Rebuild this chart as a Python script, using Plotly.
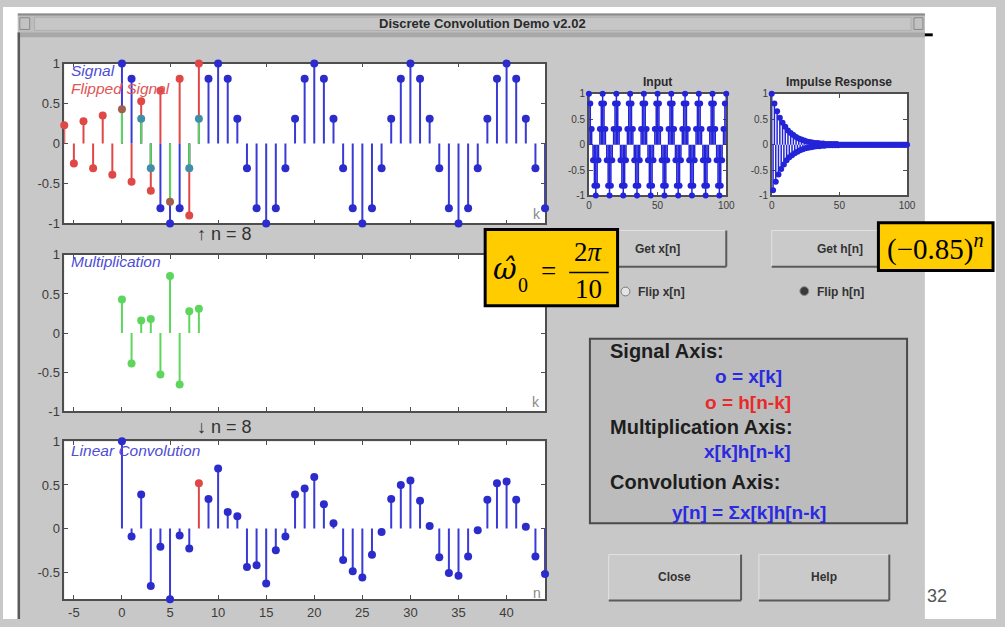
import plotly.graph_objects as go

W, H = 1005, 627

# ---------------- data ----------------
# input x[k] (k = 0..100)
signal = [
    1, 0.81, 0.31, -0.31, -0.81, -1, -0.81, -0.31, 0.31, 0.81,
    1, 0.81, 0.31, -0.31, -0.81, -1, -0.81, -0.31, 0.31, 0.81,
    1, 0.81, 0.31, -0.31, -0.81, -1, -0.81, -0.31, 0.31, 0.81,
    1, 0.81, 0.31, -0.31, -0.81, -1, -0.81, -0.31, 0.31, 0.81,
    1, 0.81, 0.31, -0.31, -0.81, -1, -0.81, -0.31, 0.31, 0.81,
    1, 0.81, 0.31, -0.31, -0.81, -1, -0.81, -0.31, 0.31, 0.81,
    1, 0.81, 0.31, -0.31, -0.81, -1, -0.81, -0.31, 0.31, 0.81,
    1, 0.81, 0.31, -0.31, -0.81, -1, -0.81, -0.31, 0.31, 0.81,
    1, 0.81, 0.31, -0.31, -0.81, -1, -0.81, -0.31, 0.31, 0.81,
    1, 0.81, 0.31, -0.31, -0.81, -1, -0.81, -0.31, 0.31, 0.81,
    1,
]
# impulse response h[n] (n = 0..100)
impulse = [
    1, -0.9, 0.81, -0.73, 0.66, -0.59, 0.53, -0.48, 0.43, -0.39,
    0.35, -0.31, 0.28, -0.25, 0.23, -0.21, 0.19, -0.17, 0.15, -0.14,
    0.12, -0.11, 0.1, -0.09, 0.08, -0.07, 0.06, -0.06, 0.05, -0.05,
    0.04, -0.04, 0.03, -0.03, 0.03, -0.03, 0.02, -0.02, 0.02, -0.02,
    0.01, -0.01, 0.01, -0.01, 0.01, -0.01, 0.01, -0.01, 0.01, -0.01,
    0, 0, 0, 0, 0, 0, 0, 0, 0, 0,
    0, 0, 0, 0, 0, 0, 0, 0, 0, 0,
    0, 0, 0, 0, 0, 0, 0, 0, 0, 0,
    0, 0, 0, 0, 0, 0, 0, 0, 0, 0,
    0, 0, 0, 0, 0, 0, 0, 0, 0, 0,
    0,
]
current_n = 8

# signal axis: x[k] for k = 0..44 and flipped h[n-k]
shown_k = list(range(0, 45))
flip_k = list(range(-6, 9))
flip_vals = [0.23, -0.25, 0.28, -0.31, 0.35, -0.39, 0.43, -0.48,
             0.53, -0.59, 0.66, -0.73, 0.81, -0.9, 1.0]

# multiplication axis: x[k]h[n-k]
product_k = list(range(0, 9))
product_vals = [0.43, -0.39, 0.16, 0.18, -0.53, 0.73, -0.66, 0.28, 0.31]

# convolution axis: y[n]
conv_n = list(range(0, 45))
conv_vals = [1.0, -0.09, 0.39, -0.66, -0.21, -0.81, -0.08, -0.23, 0.52, 0.34,
             0.69, 0.19, 0.14, -0.44, -0.42, -0.63, -0.25, -0.09, 0.39, 0.46,
             0.59, 0.28, 0.06, -0.36, -0.49, -0.56, -0.30, -0.04, 0.34, 0.50,
             0.55, 0.32, 0.03, -0.33, -0.51, -0.54, -0.32, -0.02, 0.33, 0.52,
             0.54, 0.33, 0.02, -0.32, -0.52]

main_ticks = [-5, 0, 5, 10, 15, 20, 25, 30, 35, 40]
unit_ticks = [-1, -0.5, 0, 0.5, 1]
unit_labels = ["-1", "-0.5", "0", "0.5", "1"]

# ---------------- style ----------------
BLUE_LINE = "#3a3ad6"
BLUE_MARK = "#2c2ccc"
RED = "#e04848"
GREEN = "#5ed65e"
TEAL = "#3f8fa6"
BROWN = "#a2604a"
WIN_GRAY = "#c8c8c8"
SANS = "Liberation Sans, Arial, sans-serif"
SERIF = "Liberation Serif, Times New Roman, serif"


def dom_x(x0, x1):
    return [x0 / W, x1 / W]


def dom_y(y0, y1):
    return [1 - y1 / H, 1 - y0 / H]


def stems(xs, ys, color, width, xa, ya):
    sx, sy = [], []
    for a, b in zip(xs, ys):
        sx += [a, a, None]
        sy += [0, b, None]
    return go.Scatter(x=sx, y=sy, mode="lines", line=dict(color=color, width=width),
                      xaxis=xa, yaxis=ya, hoverinfo="skip")


def marks(xs, ys, color, size, xa, ya):
    return go.Scatter(x=xs, y=ys, mode="markers",
                      marker=dict(color=color, size=size, line=dict(width=0)),
                      cliponaxis=False, xaxis=xa, yaxis=ya, hoverinfo="skip")


fig = go.Figure()

# --- signal axis ---
sig_vals = signal[:45]
sig_lookup = dict(zip(shown_k, sig_vals))
overlap_k, overlap_v, red_cols = [], [], []
for k, h in zip(flip_k, flip_vals):
    s = sig_lookup.get(k, 0)
    if s * h > 0:
        overlap_k.append(k)
        overlap_v.append(s if abs(s) < abs(h) else h)
        red_cols.append(BROWN if abs(h) < abs(s) else RED)
    else:
        red_cols.append(RED)
flip_lookup = dict(zip(flip_k, flip_vals))
blue_cols = []
for k, s in zip(shown_k, sig_vals):
    h = flip_lookup.get(k, 0)
    blue_cols.append(TEAL if (s * h > 0 and abs(s) < abs(h)) else BLUE_MARK)

fig.add_trace(stems(flip_k, flip_vals, RED, 2, "x", "y"))
fig.add_trace(stems(shown_k, sig_vals, BLUE_LINE, 2, "x", "y"))
fig.add_trace(stems(overlap_k, overlap_v, GREEN, 2, "x", "y"))
fig.add_trace(marks(flip_k, flip_vals, red_cols, 8, "x", "y"))
fig.add_trace(marks(shown_k, sig_vals, blue_cols, 8, "x", "y"))

# --- multiplication axis ---
fig.add_trace(stems(product_k, product_vals, GREEN, 2, "x2", "y2"))
fig.add_trace(marks(product_k, product_vals, GREEN, 8, "x2", "y2"))

# --- convolution axis ---
past_n = [n for n in conv_n if n != current_n]
past_v = [v for n, v in zip(conv_n, conv_vals) if n != current_n]
fig.add_trace(stems(past_n, past_v, BLUE_LINE, 2, "x3", "y3"))
fig.add_trace(stems([current_n], [conv_vals[conv_n.index(current_n)]], RED, 2, "x3", "y3"))
fig.add_trace(marks(conv_n, conv_vals,
                    [RED if n == current_n else BLUE_MARK for n in conv_n], 8, "x3", "y3"))

# --- input and impulse response thumbnails ---
idx = list(range(0, 101))
fig.add_trace(stems(idx, signal, "#2323d8", 1.5, "x4", "y4"))
fig.add_trace(marks(idx, signal, "#2323d8", 6, "x4", "y4"))
fig.add_trace(stems(idx, impulse, "#2323d8", 1.5, "x5", "y5"))
fig.add_trace(marks(idx, impulse, "#2323d8", 6, "x5", "y5"))


def axis(domain, rng, anchor, tickvals=None, ticktext=None, size=13, labels=True):
    d = dict(domain=domain, range=rng, anchor=anchor, showline=True, mirror="ticks",
             linecolor="#4e4e4e", linewidth=1.5, ticks="inside", ticklen=4,
             tickcolor="#4e4e4e", tickwidth=1, showgrid=False, zeroline=False,
             showticklabels=labels, layer="below traces", fixedrange=True,
             tickfont=dict(family=SANS, size=size, color="#3c3c3c"))
    if tickvals is not None:
        d["tickmode"] = "array"
        d["tickvals"] = tickvals
        d["ticktext"] = ticktext if ticktext is not None else [str(t) for t in tickvals]
    return d


MX = (62, 548.6)
fig.update_layout(
    xaxis=axis(dom_x(*MX), [-6, 44], "y", main_ticks, labels=False),
    yaxis=axis(dom_y(58, 221.7), [-1, 1], "x", unit_ticks, unit_labels),
    xaxis2=axis(dom_x(*MX), [-6, 44], "y2", main_ticks, labels=False),
    yaxis2=axis(dom_y(254, 414), [-1, 1], "x2", unit_ticks, unit_labels),
    xaxis3=axis(dom_x(*MX), [-6, 44], "y3", main_ticks, [str(t) for t in main_ticks]),
    yaxis3=axis(dom_y(445, 606.7), [-0.81, 1], "x3", [-0.5, 0, 0.5, 1],
                ["-0.5", "0", "0.5", "1"]),
    xaxis4=axis(dom_x(593, 732), [0, 100], "y4", [0, 50, 100], size=10),
    yaxis4=axis(dom_y(89, 193), [-1, 1], "x4", unit_ticks, unit_labels, size=10),
    xaxis5=axis(dom_x(778, 915), [0, 100], "y5", [0, 50, 100], size=10),
    yaxis5=axis(dom_y(89, 193), [-1, 1], "x5", unit_ticks, unit_labels, size=10),
)


# ---------------- window furniture ----------------
def rect(x0, y0, x1, y1, fill, line=None, lw=0, layer="below"):
    return dict(type="rect", xref="paper", yref="paper",
                x0=x0 / W, x1=x1 / W, y0=1 - y1 / H, y1=1 - y0 / H,
                fillcolor=fill, line=dict(color=line or fill, width=lw), layer=layer)


def seg(x0, y0, x1, y1, color, w, layer="below"):
    return dict(type="line", xref="paper", yref="paper",
                x0=x0 / W, x1=x1 / W, y0=1 - y0 / H, y1=1 - y1 / H,
                line=dict(color=color, width=w), layer=layer)


def circle(cx, cy, r, fill, line, lw=1):
    return dict(type="circle", xref="paper", yref="paper",
                x0=(cx - r) / W, x1=(cx + r) / W, y0=1 - (cy + r) / H, y1=1 - (cy - r) / H,
                fillcolor=fill, line=dict(color=line, width=lw), layer="below")


def button(x0, y0, x1, y1):
    return [rect(x0, y0, x1, y1, "#cacaca", "#e2e2e2", 1),
            seg(x0, y1, x1, y1, "#5a5a5a", 2),
            seg(x1, y0, x1, y1, "#5a5a5a", 2)]


shapes = [
    rect(0, 0, W, 7, "white"),
    rect(0, 0, 15, H, "white"),
    rect(933, 0, W, H, "white"),
    rect(15, 7, 933, 28, "#bdbdbd"),
    seg(15, 7.8, 933, 7.8, "#8a8a8a", 2),
    rect(32, 10.5, 919, 24, "#c6c6c6", "#b0b0b0", 1),
    rect(17, 11, 27, 23, "#c2c2c2", "#8a8a8a", 1),
    rect(922, 11, 931, 23, "#c2c2c2", "#8a8a8a", 1),
    rect(15, 26, 933, 31, "#a8a8a8"),
    seg(16, 26, 16, H, "#5a5a5a", 2.5),
    rect(933, 27, 941, 30, "black"),
    rect(594, 340, 915, 529, "#bcbcbc", "#4a4a4a", 2),
    circle(630, 291.5, 4.5, "#e4e4e4", "#7a7a7a"),
    circle(811, 291, 4.5, "#3a3a3a", "#8a8a8a"),
]
for b in [(593, 229, 732, 266), (778, 229, 915, 266), (613, 561, 747, 608), (765, 561, 897, 608)]:
    shapes += button(*b)
shapes += [
    rect(488, 228, 622, 306, "#ffcc00", "black", 3, layer="above"),
    rect(886, 221, 1002, 270, "#ffcc00", "black", 3, layer="above"),
    seg(573, 272, 613, 272, "black", 1.6, layer="above"),
]
fig.update_layout(shapes=shapes)


def label(x, y, text, size, color="#222222", family=SANS, xanchor="center", yanchor="middle"):
    return dict(x=x / W, y=1 - y / H, xref="paper", yref="paper", text=text, showarrow=False,
                xanchor=xanchor, yanchor=yanchor, font=dict(family=family, size=size, color=color))


ann = [
    label(485, 17, "<b>Discrete Convolution Demo v2.02</b>", 13, "#2a2a2a"),
    label(67, 65, "<i>Signal</i>", 15.5, "#4d4dd6", xanchor="left"),
    label(67, 83, "<i>Flipped Signal</i>", 15.5, "#e05454", xanchor="left"),
    label(67, 261, "<i>Multiplication</i>", 15.5, "#4d4dd6", xanchor="left"),
    label(67, 454, "<i>Linear Convolution</i>", 15.5, "#4d4dd6", xanchor="left"),
    label(540, 212, "k", 14, "#8a8a8a"),
    label(539, 405, "k", 14, "#8a8a8a"),
    label(540, 600, "n", 14, "#8a8a8a"),
    label(194, 233, "↑ n = 8", 18, "#333333", xanchor="left"),
    label(194, 430, "↓ n = 8", 18, "#333333", xanchor="left"),
    label(662, 77, "<b>Input</b>", 12, "#2a2a2a"),
    label(846, 77, "<b>Impulse Response</b>", 12, "#2a2a2a"),
    label(662, 248, "<b>Get x[n]</b>", 12, "#333333"),
    label(847, 248, "<b>Get h[n]</b>", 12, "#333333"),
    label(641, 292, "<b>Flip x[n]</b>", 12, "#333333", xanchor="left"),
    label(822, 292, "<b>Flip h[n]</b>", 12, "#333333", xanchor="left"),
    label(680, 584, "<b>Close</b>", 12, "#333333"),
    label(831, 584, "<b>Help</b>", 12, "#333333"),
    label(612, 352, "<b>Signal Axis:</b>", 20, "#1e1e1e", xanchor="left"),
    label(755, 379, "<b>o = x[k]</b>", 19, "#2a2ae0"),
    label(754, 405, "<b>o = h[n-k]</b>", 19, "#e82a2a"),
    label(612, 430, "<b>Multiplication Axis:</b>", 20, "#1e1e1e", xanchor="left"),
    label(754, 455, "<b>x[k]h[n-k]</b>", 19, "#2a2ae0"),
    label(612, 487, "<b>Convolution Axis:</b>", 20, "#1e1e1e", xanchor="left"),
    label(755, 518, "<b>y[n] = Σx[k]h[n-k]</b>", 19, "#2a2ae0"),
    label(933, 603, "32", 18, "#555555", xanchor="left"),
    # yellow call-outs
    label(508, 268, "<i>ω\u0302</i>", 29, "black", family="DejaVu Serif, serif"),
    label(526, 285, "0", 20, "black", family=SERIF),
    label(552, 270, "=", 27, "black", family=SERIF),
    label(593, 251, "2<i>π</i>", 27, "black", family=SERIF),
    label(593, 289, "10", 27, "black", family=SERIF),
    label(944, 246, "(−0.85)<sup><i>n</i></sup>", 29, "black", family=SERIF),
]

fig.update_layout(
    annotations=ann,
    width=W, height=H, autosize=False,
    margin=dict(l=0, r=0, t=0, b=0),
    paper_bgcolor=WIN_GRAY,
    plot_bgcolor="white",
    showlegend=False,
)

fig.write_html("out.html")
